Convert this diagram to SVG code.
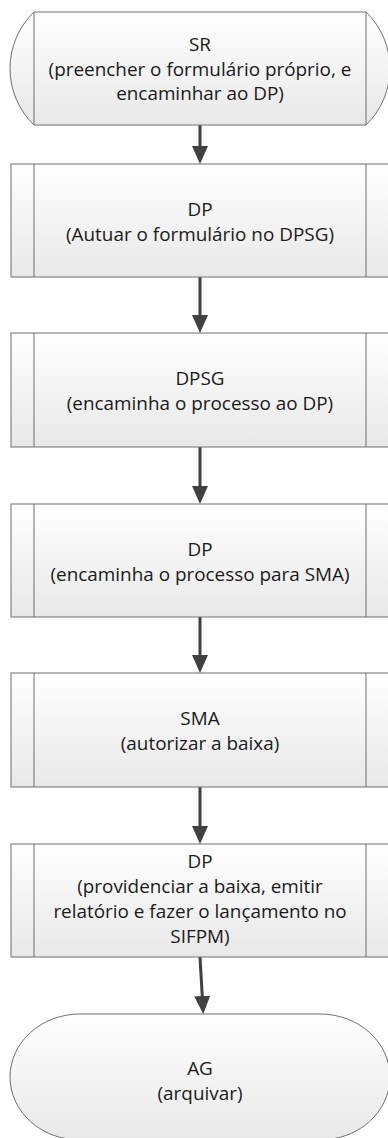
<svg xmlns="http://www.w3.org/2000/svg" width="388" height="1138" viewBox="0 0 388 1138">
  <style>
    .shape { fill: url(#g); stroke: #6e6e6e; stroke-width: 1; }
    .inner { stroke: #6e6e6e; stroke-width: 1; fill: none; }
    .lbl { font-family: "Open Sans", "Liberation Sans", sans-serif; font-size: 18.9px; fill: #1a1a1a; text-anchor: middle; }
    .conn { stroke: #404040; stroke-width: 3; fill: none; marker-end: url(#arr); }
  </style>
  <defs>
    <linearGradient id="g" x1="0" y1="0" x2="0" y2="1">
      <stop offset="0" stop-color="#ffffff"/>
      <stop offset="1" stop-color="#e8e8e8"/>
    </linearGradient>
    <marker id="arr" markerUnits="userSpaceOnUse" markerWidth="20" markerHeight="18" viewBox="0 0 20 18" refX="1" refY="9" orient="auto">
      <path d="M0,1 L18,9 L0,17 Z" fill="#404040"/>
    </marker>
  </defs>

  <g id="connectors">
    <line class="conn" x1="200" y1="125" x2="200" y2="147"/>
    <line class="conn" x1="200" y1="277" x2="200" y2="316"/>
    <line class="conn" x1="200" y1="447" x2="200" y2="487"/>
    <line class="conn" x1="200" y1="617" x2="200" y2="656"/>
    <line class="conn" x1="200" y1="787" x2="200" y2="827"/>
    <line class="conn" x1="200" y1="957" x2="202.3" y2="997"/>
  </g>

  <g id="node-sr">
    <path class="shape" d="M34,12 L366,12 A78.5,78.5 0 0 1 366,125 L34,125 A78.5,78.5 0 0 1 34,12 Z"/>
    <line class="inner" x1="34" y1="12" x2="34" y2="125"/>
    <line class="inner" x1="366" y1="12" x2="366" y2="125"/>
    <text class="lbl" x="200" y="50.5">SR</text>
    <text class="lbl" x="200" y="75.5">(preencher o formulário próprio, e</text>
    <text class="lbl" x="200" y="100">encaminhar ao DP)</text>
  </g>

  <g id="node-dp1">
    <rect class="shape" x="11" y="164" width="378" height="113"/>
    <line class="inner" x1="34" y1="164" x2="34" y2="277"/>
    <line class="inner" x1="366" y1="164" x2="366" y2="277"/>
    <text class="lbl" x="200" y="215.5">DP</text>
    <text class="lbl" x="200" y="240.5">(Autuar o formulário no DPSG)</text>
  </g>

  <g id="node-dpsg">
    <rect class="shape" x="11" y="333" width="378" height="114"/>
    <line class="inner" x1="34" y1="333" x2="34" y2="447"/>
    <line class="inner" x1="366" y1="333" x2="366" y2="447"/>
    <text class="lbl" x="200" y="384.5">DPSG</text>
    <text class="lbl" x="200" y="409.5">(encaminha o processo ao DP)</text>
  </g>

  <g id="node-dp2">
    <rect class="shape" x="11" y="504" width="378" height="113"/>
    <line class="inner" x1="34" y1="504" x2="34" y2="617"/>
    <line class="inner" x1="366" y1="504" x2="366" y2="617"/>
    <text class="lbl" x="200" y="555.5">DP</text>
    <text class="lbl" x="200" y="580.5">(encaminha o processo para SMA)</text>
  </g>

  <g id="node-sma">
    <rect class="shape" x="11" y="673" width="378" height="114"/>
    <line class="inner" x1="34" y1="673" x2="34" y2="787"/>
    <line class="inner" x1="366" y1="673" x2="366" y2="787"/>
    <text class="lbl" x="200" y="724.5">SMA</text>
    <text class="lbl" x="200" y="749.5">(autorizar a baixa)</text>
  </g>

  <g id="node-dp3">
    <rect class="shape" x="11" y="844" width="378" height="113"/>
    <line class="inner" x1="34" y1="844" x2="34" y2="957"/>
    <line class="inner" x1="366" y1="844" x2="366" y2="957"/>
    <text class="lbl" x="200" y="868">DP</text>
    <text class="lbl" x="200" y="893">(providenciar a baixa, emitir</text>
    <text class="lbl" x="200" y="918">relatório e fazer o lançamento no</text>
    <text class="lbl" x="200" y="943">SIFPM)</text>
  </g>

  <g id="node-ag">
    <rect class="shape" x="10" y="1014" width="380" height="126" rx="70" ry="63"/>
    <text class="lbl" x="200" y="1075">AG</text>
    <text class="lbl" x="200" y="1100">(arquivar)</text>
  </g>
</svg>
